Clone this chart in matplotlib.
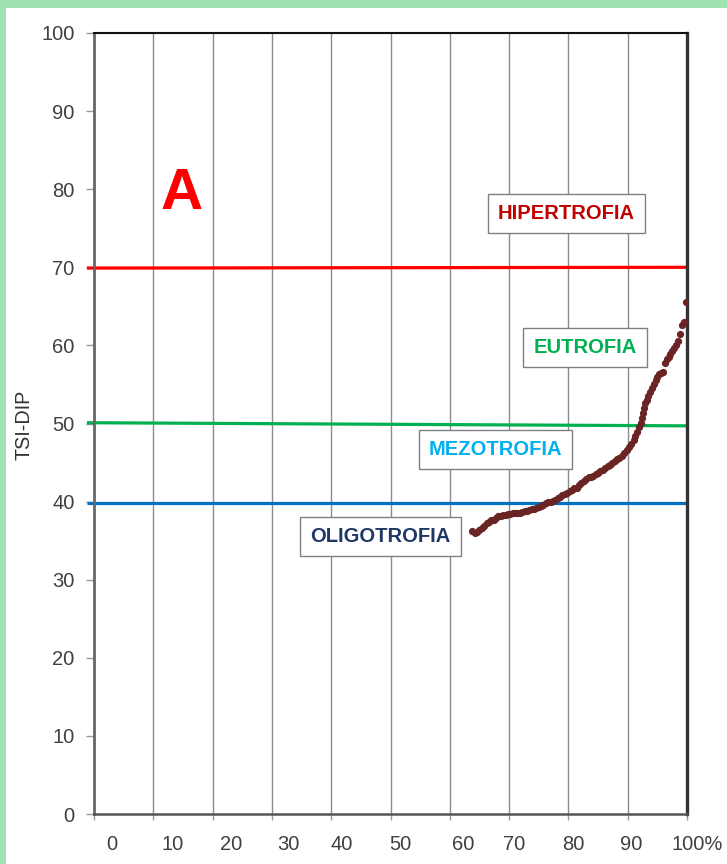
import matplotlib

matplotlib.use("Agg")
import matplotlib.pyplot as plt
import matplotlib.transforms as mtransforms
from matplotlib.patches import Rectangle

plt.rcParams["font.family"] = ["Liberation Sans", "DejaVu Sans"]

# trophic state thresholds (y at left end, y at right end)
LEVEL_NAMES = ["hiper", "eu", "oligo"]
LEVEL_Y_LEFT = [69.9, 50.1, 39.8]
LEVEL_Y_RIGHT = [70.0, 49.7, 39.8]
LEVEL_COLORS = ["#ff0000", "#00b050", "#0070c0"]

# zone labels
ZONE_TEXT = ["HIPERTROFIA", "EUTROFIA", "MEZOTROFIA", "OLIGOTROFIA"]
ZONE_X = [79.7, 82.8, 67.7, 48.3]
ZONE_Y = [76.9, 59.7, 46.7, 35.5]
ZONE_COLORS = ["#c00000", "#00b050", "#00b0f0", "#1f3864"]

# cumulative frequency (%) vs TSI-DIP
FREQ = [
    63.8, 64.2, 64.6, 65.0, 65.4, 65.8, 66.2, 66.6, 67.0, 67.4,
    67.8, 68.2, 68.6, 69.0, 69.4, 69.8, 70.2, 70.6, 71.0, 71.4,
    71.8, 72.2, 72.6, 73.0, 73.4, 73.8, 74.2, 74.6, 75.0, 75.4,
    75.8, 76.2, 76.6, 77.0, 77.4, 77.8, 78.2, 78.6, 79.0, 79.4,
    79.8, 80.2, 80.6, 81.0, 81.4, 81.8, 82.2, 82.6, 83.0, 83.4,
    83.8, 84.2, 84.6, 85.0, 85.4, 85.8, 86.2, 86.6, 87.0, 87.4,
    87.8, 88.2, 88.6, 89.0, 89.4, 89.8, 90.2, 90.6, 91.0, 91.3,
    91.6, 91.9, 92.2, 92.4, 92.6, 92.8, 93.0, 93.2, 93.5, 93.8,
    94.1, 94.4, 94.7, 95.0, 95.3, 95.6, 95.9, 96.3, 96.6, 96.9,
    97.2, 97.5, 97.8, 98.1, 98.4, 98.8, 99.2, 99.5, 99.9,
]
TSI = [
    36.2, 36.0, 36.1, 36.3, 36.6, 36.9, 37.2, 37.4, 37.6, 37.7,
    37.9, 38.1, 38.2, 38.3, 38.3, 38.4, 38.4, 38.5, 38.5, 38.6,
    38.6, 38.7, 38.8, 38.8, 38.9, 39.0, 39.1, 39.2, 39.3, 39.5,
    39.6, 39.8, 39.9, 40.0, 40.1, 40.2, 40.4, 40.6, 40.8, 41.0,
    41.1, 41.3, 41.5, 41.7, 41.8, 42.1, 42.4, 42.7, 42.9, 43.1,
    43.2, 43.3, 43.5, 43.7, 43.9, 44.1, 44.3, 44.5, 44.7, 45.0,
    45.2, 45.4, 45.6, 45.9, 46.2, 46.6, 47.0, 47.4, 47.9, 48.4,
    48.9, 49.5, 50.1, 50.7, 51.4, 52.0, 52.6, 53.0, 53.5, 54.0,
    54.6, 55.1, 55.6, 56.0, 56.3, 56.5, 56.6, 57.8, 58.2, 58.5,
    58.9, 59.3, 59.7, 60.1, 60.5, 61.4, 62.6, 63.0, 65.5,
]

Y_TICKS = list(range(0, 101, 10))
X_GRID = list(range(0, 101, 10))
X_LABELS = ["0", "10", "20", "30", "40", "50", "60", "70", "80", "90", "100%"]
# where the x labels sit (they are not centred on the grid lines)
X_LABEL_AT = [3.0, 13.2, 23.1, 32.8, 41.7, 51.6, 62.2, 70.8, 80.8, 90.6, 101.8]

BORDER = "#9fe3b2"
W, H = 727, 864
AX_LEFT, AX_RIGHT, AX_TOP, AX_BOTTOM = 94, 687, 33, 814

fig = plt.figure(figsize=(W / 100, H / 100), dpi=100)
fig.patch.set_facecolor("white")
# light green frame on top and left
fig.patches.append(Rectangle((0, 1 - 8 / H), 1, 8 / H, transform=fig.transFigure,
                             facecolor=BORDER, edgecolor="none"))
fig.patches.append(Rectangle((0, 0), 6 / W, 1, transform=fig.transFigure,
                             facecolor=BORDER, edgecolor="none"))

ax = fig.add_axes([AX_LEFT / W, 1 - AX_BOTTOM / H, (AX_RIGHT - AX_LEFT) / W,
                   (AX_BOTTOM - AX_TOP) / H])

for x in X_GRID[1:-1]:
    ax.axvline(x, color="#8c8c8c", linewidth=1.0, zorder=1)

for y0, y1, c in zip(LEVEL_Y_LEFT, LEVEL_Y_RIGHT, LEVEL_COLORS):
    ax.plot([-1.2, 100], [y0, y1], color=c, linewidth=2.3, clip_on=False, zorder=2,
            solid_capstyle="butt")

ax.plot(FREQ, TSI, "o", markersize=5.2, color="#6b2424", markeredgewidth=0, zorder=4)

for txt, x, y, c in zip(ZONE_TEXT, ZONE_X, ZONE_Y, ZONE_COLORS):
    ax.text(x, y, txt, color=c, fontsize=14.5, fontweight="bold", ha="center", va="center",
            zorder=5,
            bbox=dict(boxstyle="square,pad=0.5", facecolor="white", edgecolor="#808080",
                      linewidth=1.0))

ax.text(14.7, 77.5, "A", color="#ff0000", fontsize=42, fontweight="bold", ha="center",
        va="baseline", zorder=5)

# spines
ax.spines["left"].set_color("#666666")
ax.spines["left"].set_linewidth(2.0)
ax.spines["bottom"].set_color("#555555")
ax.spines["bottom"].set_linewidth(1.8)
ax.spines["top"].set_color("#111111")
ax.spines["top"].set_linewidth(1.5)
ax.spines["right"].set_color("#333333")
ax.spines["right"].set_linewidth(2.4)

ax.set_xlim(0, 100)
ax.set_ylim(0, 100)

ax.set_yticks(Y_TICKS)
ax.tick_params(axis="y", length=6, width=1, color="#999999", pad=8, labelsize=14.5,
               labelcolor="#404040")

ax.set_xticks(X_GRID)
ax.set_xticklabels(X_LABELS)
ax.tick_params(axis="x", length=4, width=1, color="#999999", pad=11, labelsize=14.5,
               labelcolor="#404040")

# shift each x label sideways to where it sits in the original
px_per_unit = (AX_RIGHT - AX_LEFT) / 100
for lab, g, at in zip(ax.get_xticklabels(), X_GRID, X_LABEL_AT):
    dx = (at - g) * px_per_unit / 100
    lab.set_transform(lab.get_transform()
                      + mtransforms.ScaledTranslation(dx, 0, fig.dpi_scale_trans))

fig.text(24 / W, 1 - 425 / H, "TSI-DIP", rotation=90, fontsize=14.2, color="#333333",
         ha="center", va="center")

fig.savefig("out.png", dpi=100)
